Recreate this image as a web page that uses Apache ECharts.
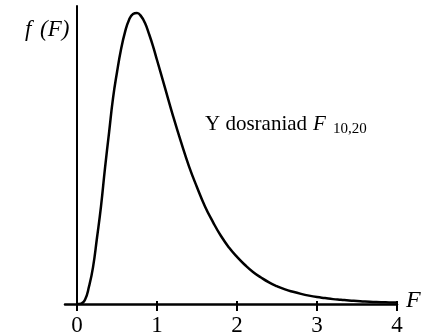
<!DOCTYPE html>
<html>
<head>
<meta charset="utf-8">
<script src="https://cdn.jsdelivr.net/npm/echarts@6/dist/echarts.min.js"></script>
<style>
  html, body { margin: 0; padding: 0; background: #fff; }
  #chart { width: 423px; height: 334px; }
</style>
</head>
<body>
<div id="chart"></div>
<script>
// F values and density
const fValues = [0, 0.05, 0.1, 0.15, 0.2, 0.25, 0.3, 0.35, 0.4, 0.45, 0.5, 0.55, 0.6, 0.65, 0.7, 0.75,
    0.8, 0.85, 0.9, 0.95, 1.0, 1.1, 1.2, 1.3, 1.4, 1.5,
    1.6, 1.7, 1.8, 1.9, 2.0, 2.1, 2.2, 2.3, 2.4, 2.5, 2.6, 2.7, 2.8, 2.9, 3.0,
    3.1, 3.2, 3.3, 3.4, 3.5, 3.6, 3.7, 3.8, 3.9, 4.0];
const density = [0, 0.001, 0.012, 0.05, 0.105, 0.19, 0.28, 0.39, 0.49, 0.59, 0.665, 0.73, 0.78, 0.815, 0.832, 0.835,
    0.826, 0.806, 0.775, 0.74, 0.70, 0.62, 0.54, 0.465, 0.395, 0.335,
    0.28, 0.235, 0.195, 0.162, 0.135, 0.112, 0.092, 0.076, 0.062, 0.051, 0.042, 0.035, 0.029, 0.024, 0.020,
    0.017, 0.014, 0.012, 0.010, 0.0085, 0.007, 0.006, 0.005, 0.0045, 0.004];
const tickValues = [0, 1, 2, 3, 4];

const serif = '"Liberation Serif", "DejaVu Serif", serif';

const chart = echarts.init(document.getElementById('chart'));

const option = {
    animation: false,
    grid: [
        // outer grid only carries the x axis line, which starts a little left of 0
        { left: 65, right: 26, top: 6, bottom: 30, containLabel: false, outerBoundsMode: 'none' },
        // plot area
        { left: 77, right: 26, top: 6, bottom: 30, containLabel: false, outerBoundsMode: 'none' },
        // thin strip under the axis: its split lines are the tick marks
        { left: 77, right: 26, top: 301, height: 10, containLabel: false, outerBoundsMode: 'none' }
    ],
    xAxis: [
        {
            gridIndex: 0,
            type: 'value',
            min: -0.15,
            max: 4,
            splitLine: { show: false },
            axisLine: { show: true, lineStyle: { color: '#000', width: 2.5 } },
            axisTick: { show: false },
            axisLabel: { show: false }
        },
        {
            gridIndex: 1,
            type: 'value',
            min: 0,
            max: tickValues[tickValues.length - 1],
            interval: 1,
            splitLine: { show: false },
            axisLine: { show: false, onZero: false },
            axisTick: { show: false },
            axisLabel: { show: true, margin: 10, color: '#000', fontFamily: serif, fontSize: 23 }
        },
        {
            gridIndex: 2,
            type: 'value',
            min: 0,
            max: tickValues[tickValues.length - 1],
            interval: 1,
            axisLine: { show: false, onZero: false },
            axisTick: { show: false },
            axisLabel: { show: false },
            splitLine: { show: true, showMinLine: true, showMaxLine: true, lineStyle: { color: '#000', width: 2 } }
        }
    ],
    yAxis: [
        { gridIndex: 0, type: 'value', min: 0, max: 0.855, show: false },
        {
            gridIndex: 1,
            type: 'value',
            min: 0,
            max: 0.855,
            splitLine: { show: false },
            axisLine: { show: true, onZero: false, lineStyle: { color: '#000', width: 2 } },
            axisTick: { show: false },
            axisLabel: { show: false }
        },
        { gridIndex: 2, type: 'value', min: 0, max: 1, show: false }
    ],
    series: [{
        type: 'line',
        xAxisIndex: 1,
        yAxisIndex: 1,
        data: fValues.map((f, i) => [f, density[i]]),
        smooth: true,
        showSymbol: false,
        lineStyle: { color: '#000', width: 2.5 },
        z: 3
    }],
    graphic: [
        { type: 'text', x: 25, y: 30, style: { text: 'f', font: 'italic 23px ' + serif, fill: '#000', verticalAlign: 'middle' } },
        { type: 'text', x: 40, y: 30, style: { text: '(F)', font: 'italic 23px ' + serif, fill: '#000', verticalAlign: 'middle' } },
        { type: 'text', x: 205, y: 124, style: { text: 'Y dosraniad', font: '21px ' + serif, fill: '#000', verticalAlign: 'middle' } },
        { type: 'text', x: 313, y: 124, style: { text: 'F', font: 'italic 21px ' + serif, fill: '#000', verticalAlign: 'middle' } },
        { type: 'text', x: 333, y: 129, style: { text: '10,20', font: '15px ' + serif, fill: '#000', verticalAlign: 'middle' } },
        { type: 'text', x: 406, y: 301, style: { text: 'F', font: 'italic 24px ' + serif, fill: '#000', verticalAlign: 'middle' } }
    ]
};

chart.setOption(option);
</script>
</body>
</html>
